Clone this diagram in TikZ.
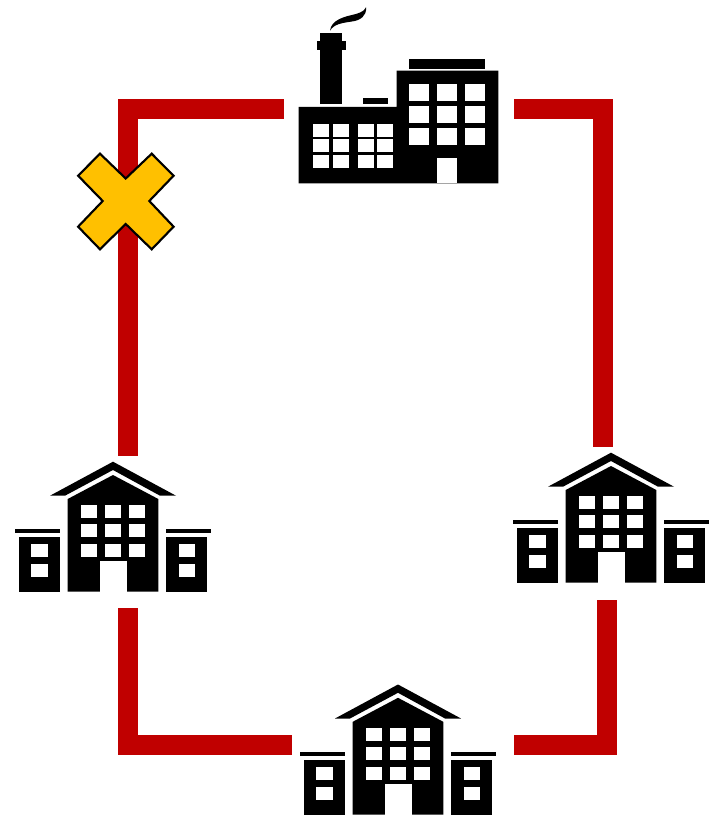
\documentclass[tikz,border=0pt]{standalone}
\definecolor{PipeRed}{HTML}{C00000}
\definecolor{FaultYellow}{HTML}{FFC000}
\usetikzlibrary{positioning}

\begin{document}
\begin{tikzpicture}[x=0.75pt,y=-0.75pt,
      pipe/.style={draw=PipeRed,line width=15pt},
      slot/.style={inner sep=0pt,minimum height=12pt},
      solid/.style={fill=black,draw=none},
      pane/.style={fill=white,draw=none},
      fault/.style={fill=FaultYellow,draw=black,line width=1.6pt,line join=miter},
      pics/school/.style={code={
        \fill[solid] (0,0) -- (63,34) -- (47,34) -- (0,8.3) -- (-48,34) -- (-63,34) -- cycle;
        \fill[solid] (-45.3,37.3) -- (0,13.3) -- (45.3,37.3) -- (45.3,130) -- (-45.3,130) -- cycle;
        \fill[pane] (-13.3,99.6) rectangle (13.7,130);
        \foreach \wx in {-32,-7.7,16.3} \foreach \wy in {43,62.6,82.3}
          \fill[pane] (\wx,\wy) rectangle ++(16,13);
        \fill[solid] (-94,75.6) rectangle (-53,130);
        \fill[solid] (-98,67) rectangle (-53,71);
        \fill[solid] (53.3,75.6) rectangle (94.3,130);
        \fill[solid] (53.3,67) rectangle (98.3,71);
        \foreach \wx in {-81.7,65.7} \foreach \wy in {82.3,102}
          \fill[pane] (\wx,\wy) rectangle ++(16.3,13);
      }}]
    \useasboundingbox (0,0) rectangle (711,816);
    \fill[white] (0,0) rectangle (711,816);
    % slots that the pipes stop at
    \node[slot,minimum width=172.5pt] (plant)  at (399,108.7)  {};
    \node[slot,minimum width=147pt,minimum height=114pt] (left)  at (127.8,532) {};
    \node[slot,minimum width=147pt,minimum height=114.75pt] (right) at (606.5,523.5) {};
    \node[slot,minimum width=166.5pt] (bottom) at (403,744.7) {};
    \draw[pipe] (plant.west) -| (left.north);
    \draw[pipe] (plant.east) -| ([xshift=-3pt]right.north);
    \draw[pipe] (left.south) |- (bottom.west);
    \draw[pipe] (right.south) |- (bottom.east);
    % factory
    \fill[solid] (298.7,107) -- (396.7,107) -- (396.7,70.7) -- (498.3,70.7) -- (498.3,183.3) -- (298.7,183.3) -- cycle;
    \fill[solid] (409.3,58.7) rectangle (484.7,68.7);
    \fill[solid] (363,97.7) rectangle (387.7,104.3);
    \fill[solid] (320.3,33.3) rectangle (342.3,104.3);
    \fill[solid] (317.3,40.7) rectangle (345.7,50);
    \fill[solid] (330,30.7) .. controls (331,20) and (345,16.5) .. (352,15)
      .. controls (358,13.5) and (364,12) .. (366,7.3)
      .. controls (367,16) and (360,20.5) .. (352,21.5)
      .. controls (342,23) and (334,24) .. (330,30.7) -- cycle;
    \fill[pane] (437,157.7) rectangle (457,183.3);
    \foreach \wx in {409.3,437,465} \foreach \wy in {83.7,106,128.3}
      \fill[pane] (\wx,\wy) rectangle ++(19.7,17);
    \foreach \wx in {313.3,333.3,357.7,377} \foreach \wy in {124.3,139.3,155.3}
      \fill[pane] (\wx,\wy) rectangle ++(16,13);
    % buildings
    \pic at (113,461.7) {school};
    \pic at (611,452.7) {school};
    \pic at (398,684.5) {school};
    % fault mark
    \draw[fault] (100,153.7) -- (125.7,178.5) -- (151.7,153.7) -- (173.6,175.7) -- (149.3,201)
      -- (173.6,226.7) -- (151.7,249.3) -- (125.7,224) -- (100,249.3) -- (78.1,226.7)
      -- (102.7,201) -- (78.1,175.7) -- cycle;
\end{tikzpicture}
\end{document}
